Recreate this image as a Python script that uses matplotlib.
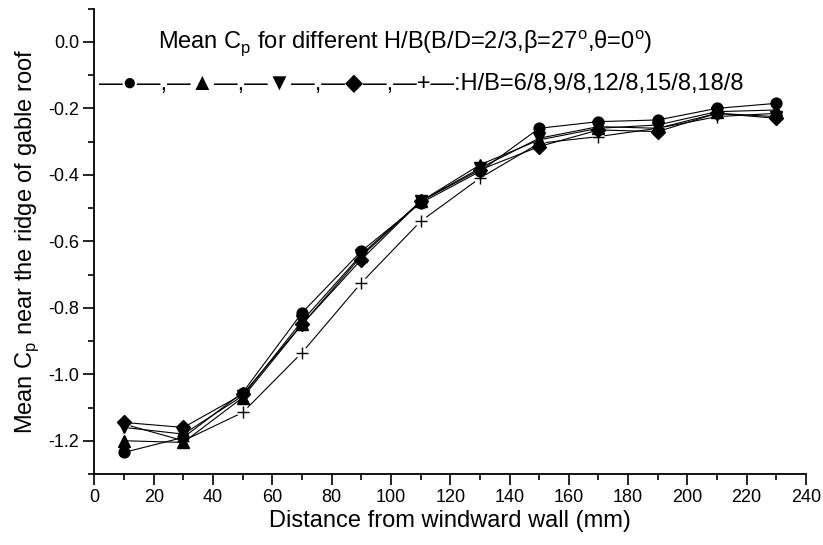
import matplotlib
matplotlib.use("Agg")
import matplotlib.pyplot as plt
from matplotlib.ticker import MultipleLocator

plt.rcParams['font.family'] = ['Liberation Sans', 'DejaVu Sans']
plt.rcParams['mathtext.fontset'] = 'custom'
plt.rcParams['mathtext.rm'] = 'Liberation Sans'

# Distance from windward wall (mm)
distance = [10, 30, 50, 70, 90, 110, 130, 150, 170, 190, 210, 230]

# Mean Cp near the ridge, one list per H/B
cp_6_8 = [-1.235, -1.19, -1.055, -0.815, -0.63, -0.485, -0.39, -0.26, -0.24, -0.235, -0.20, -0.185]
cp_9_8 = [-1.20, -1.205, -1.07, -0.85, -0.645, -0.48, -0.37, -0.295, -0.26, -0.25, -0.21, -0.205]
cp_12_8 = [-1.16, -1.18, -1.065, -0.84, -0.64, -0.48, -0.38, -0.29, -0.255, -0.26, -0.215, -0.225]
cp_15_8 = [-1.145, -1.16, -1.06, -0.85, -0.655, -0.48, -0.385, -0.315, -0.265, -0.27, -0.215, -0.23]
cp_18_8 = [-1.15, -1.20, -1.115, -0.935, -0.725, -0.54, -0.41, -0.305, -0.285, -0.26, -0.225, -0.215]

series = [cp_6_8, cp_9_8, cp_12_8, cp_15_8, cp_18_8]
markers = ['o', '^', 'v', 'D', '+']
sizes = [7.8, 8.2, 8.2, 6.8, 9]

fig = plt.figure(figsize=(8.23, 5.45), dpi=100)
ax = fig.add_axes([0.1148, 0.1303, 0.8645, 0.8539])

for vals, m, s in zip(series, markers, sizes):
    if m == '+':
        # Origin-style gap around the plus symbol, kept under the filled symbols
        ax.plot(distance, vals, color='black', lw=0.8, zorder=1)
        ax.plot(distance, vals, ls='none', marker='o', ms=s, mfc='white', mec='none', zorder=1.5)
        ax.plot(distance, vals, ls='none', marker='+', ms=s, mec='black', mew=1.0, zorder=2)
    else:
        ax.plot(distance, vals, color='black', lw=0.8, marker=m, ms=s,
                mfc='black', mec='black', zorder=3)

ax.set_xlim(0, 240)
ax.set_ylim(-1.3, 0.1)
ax.xaxis.set_major_locator(MultipleLocator(20))
ax.xaxis.set_minor_locator(MultipleLocator(10))
ax.yaxis.set_major_locator(MultipleLocator(0.2))
ax.yaxis.set_minor_locator(MultipleLocator(0.1))
ax.yaxis.set_major_formatter(plt.FuncFormatter(lambda v, p: f"{v:.1f}"))

for side in ['top', 'right']:
    ax.spines[side].set_visible(False)
for side in ['left', 'bottom']:
    ax.spines[side].set_linewidth(1.3)
ax.tick_params(which='major', direction='out', length=8, width=1.2, labelsize=13, pad=3)
ax.tick_params(which='minor', direction='out', length=4.5, width=1.2)

ax.set_xlabel("Distance from windward wall (mm)", fontsize=17, labelpad=3)
ax.set_ylabel("Mean C$_\\mathrm{p}$ near the ridge of gable roof", fontsize=17, labelpad=5)

fig.text(0.492, 0.921,
         "Mean C$_\\mathrm{p}$ for different H/B(B/D=2/3,\u03b2=27$^\\mathrm{o}$,\u03b8=0$^\\mathrm{o}$)",
         fontsize=17, ha='center', va='center')
fig.text(0.120, 0.846,
         "\u2014\u25cf\u2014,\u2014\u25b2\u2014,\u2014\u25bc\u2014,\u2014\u25c6\u2014,\u2014+\u2014:H/B=6/8,9/8,12/8,15/8,18/8",
         fontsize=17, ha='left', va='center')

fig.savefig("out.png", dpi=100)
